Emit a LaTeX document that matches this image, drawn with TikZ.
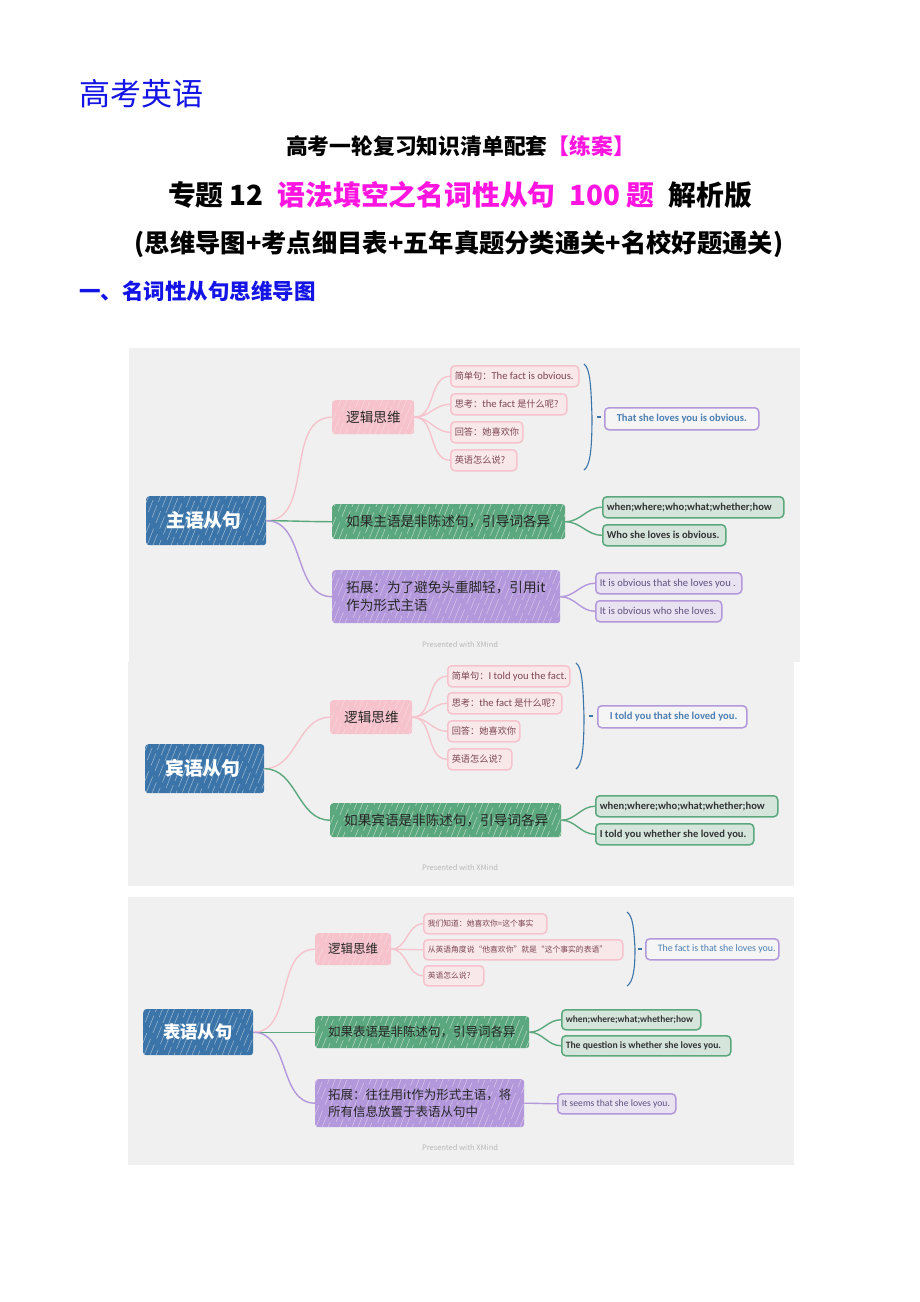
\documentclass[tikz,border=0pt]{standalone}
\usepackage{fontspec}
\setmainfont{Noto Sans CJK SC}
\newfontfamily\engl[Scale=1.15]{Carlito}
\usetikzlibrary{calc}
\definecolor{mapblue}{HTML}{3B74A8}
\definecolor{mappink}{HTML}{F6C3CD}
\definecolor{mapgreen}{HTML}{5CA87E}
\definecolor{mappurple}{HTML}{B498DC}
\definecolor{leafpink}{HTML}{F8E8EA}
\definecolor{leafgreen}{HTML}{D5E5DC}
\definecolor{leafpurple}{HTML}{E9E2F1}
\definecolor{inkpink}{HTML}{7D4650}
\definecolor{inkpurple}{HTML}{5F5280}
\definecolor{inkblue}{HTML}{4C7FB2}
\definecolor{titleblue}{HTML}{1414E6}
\definecolor{titlepink}{HTML}{FF14E0}
\tikzset{
  fs/.style={font=\fontsize{#1}{18}\selectfont},
  wd/.style={text width=#1pt-2*\pgfkeysvalueof{/pgf/inner xsep}},
  tall/.style={minimum height=#1pt},
  box/.style={anchor=north west, rounded corners=3pt, inner ysep=0pt, align=flush left},
  hatched/.style={path picture={
    \foreach \k [evaluate=\k as \ph using {int(mod(\k+60,41))}] in {-60,-54,...,240}
      \draw[white, opacity=#1, line width=.5pt, dash pattern=on 13pt off 4pt on 22pt off 6pt, dash phase=\ph pt]
        ($(path picture bounding box.south west)+(\k,2)$) -- ++(24,-60);}},
  rootbox/.style={box, inner xsep=20pt, fill=mapblue, text=white, hatched=.5, node font=\bfseries},
  topic/.style={box, inner xsep=14pt, text=black!85},
  pinktopic/.style={topic, fill=mappink, hatched=.35},
  greentopic/.style={topic, fill=mapgreen, hatched=.55},
  purpletopic/.style={topic, fill=mappurple, hatched=.45},
  leaf/.style={box, rounded corners=4pt, inner xsep=.5pt, line width=1.5pt, execute at begin node=\hspace*{3.5pt}},
  pinkleaf/.style={leaf, draw=mappink, fill=leafpink, text=inkpink},
  greenleaf/.style={leaf, draw=mapgreen, fill=leafgreen, text=black!80, node font=\bfseries\engl},
  purpleleaf/.style={leaf, draw=mappurple, fill=leafpurple, text=inkpurple, node font=\engl},
  sumleaf/.style={leaf, draw=mappurple, fill=black!4, text=inkblue, execute at begin node=\hspace*{8pt}, node font=\engl},
  link/.style={out=0, in=180, line width=1.4pt},
  pinklink/.style={link, draw=mappink},
  greenlink/.style={link, draw=mapgreen},
  purplelink/.style={link, draw=mappurple},
  bracket/.style={draw=mapblue, line width=1.1pt},
  credit/.style={text=black!28, font=\fontsize{7.5}{9}\selectfont},
  heading/.style={font=\fontsize{#1}{#1}\selectfont\bfseries}
}
\begin{document}
\begin{tikzpicture}[x=1pt, y=-1pt]
  \useasboundingbox (0,0) rectangle (920,1302);

  \node[text=titleblue, anchor=west, inner sep=0pt, font=\fontsize{31}{31}\selectfont] (brand) at (79,94) {高考英语};
  \node[heading=21.8] (title) at (460.5,146) {高考一轮复习知识清单配套\textcolor{titlepink}{【练案】}};
  \node[heading=27.8] (subject) at (460,195) {专题 12\enspace\textcolor{titlepink}{语法填空之名词性从句\enspace 100 题}\enspace 解析版};
  \node[heading=25.3] (plan) at (459,244) {(思维导图+考点细目表+五年真题分类通关+名校好题通关)};
  \node[heading=21.5, text=titleblue, anchor=west, inner sep=0pt] (section) at (79,291) {一、名词性从句思维导图};

  \fill[black!6] (129,348) rectangle (800,662);
  \fill[black!6] (128,662) rectangle (794,886);
  \fill[black!6] (128,897) rectangle (794,1165);

  % subject clause
  \node[rootbox, wd=120, tall=49, fs=18.8] (rootA) at (146,496) {主语从句};
  \node[pinktopic, wd=82, tall=34, fs=13.6] (logicA) at (332,400) {逻辑思维};
  \node[greentopic, wd=233, tall=35, fs=13.6] (wordA) at (332,504) {如果主语是非陈述句，引导词各异};
  \node[purpletopic, wd=228, tall=53, fs=13.6] (itA) at (332,570) {拓展：为了避免头重脚轻，引用it\\作为形式主语};
  \node[pinkleaf, wd=128, tall=21, fs=9.2] (leafAa) at (450,365) {简单句：{\engl The fact is obvious.}};
  \node[pinkleaf, wd=116, tall=21, fs=9.2] (leafAb) at (450,393) {思考：{\engl the fact} 是什么呢?};
  \node[pinkleaf, wd=72, tall=21, fs=9.2] (leafAc) at (450,421) {回答：她喜欢你};
  \node[pinkleaf, wd=66, tall=21, fs=9.2] (leafAd) at (450,449) {英语怎么说?};
  \node[sumleaf, wd=154, tall=22, fs=9.2, node font=\bfseries\engl] (sumA) at (604,407) {That she loves you is obvious.};
  \node[greenleaf, wd=181, tall=21, fs=9.2] (greenAa) at (602,496) {when;where;who;what;whether;how};
  \node[greenleaf, wd=123, tall=21, fs=9.2] (greenAb) at (602,524) {Who she loves is obvious.};
  \node[purpleleaf, wd=146, tall=21, fs=9.2] (purpleAa) at (595,572) {It is obvious that she loves you .};
  \node[purpleleaf, wd=126, tall=21, fs=9.2] (purpleAb) at (595,600) {It is obvious who she loves.};
  \draw[pinklink] (rootA.east) to (logicA.west);
  \draw[greenlink] (rootA.east) to (wordA.west);
  \draw[purplelink] (rootA.east) to (itA.west);
  \foreach \n in {a,b,c,d} {\draw[pinklink] (logicA.east) to (leafA\n.west);}
  \foreach \n in {a,b} {\draw[greenlink] (wordA.east) to (greenA\n.west);}
  \foreach \n in {a,b} {\draw[purplelink] (itA.east) to (purpleA\n.west);}
  \coordinate (capA) at (584,364);
  \coordinate (tipA) at (592,417);
  \coordinate (endA) at (584,470);
  \coordinate (dashA) at (597,417);
  \coordinate (stubA) at (601,417);
  \draw[bracket] (capA) .. controls (590,368) and (591,385) .. (tipA) .. controls (592,450) and (590,466) .. (endA);
  \draw[bracket] (dashA) -- (stubA);
  \node[credit] (creditA) at (460,645) {Presented with XMind};

  % object clause
  \node[rootbox, wd=119, tall=49, fs=18.8] (rootB) at (145,744) {宾语从句};
  \node[pinktopic, wd=82, tall=34, fs=13.6] (logicB) at (330,700) {逻辑思维};
  \node[greentopic, wd=231, tall=34, fs=13.6] (wordB) at (330,803) {如果宾语是非陈述句，引导词各异};
  \node[pinkleaf, wd=122, tall=21, fs=9.2] (leafBa) at (447,665) {简单句：{\engl I told you the fact.}};
  \node[pinkleaf, wd=114, tall=21, fs=9.2] (leafBb) at (447,692) {思考：{\engl the fact} 是什么呢?};
  \node[pinkleaf, wd=72, tall=21, fs=9.2] (leafBc) at (447,720) {回答：她喜欢你};
  \node[pinkleaf, wd=64, tall=21, fs=9.2] (leafBd) at (447,748) {英语怎么说?};
  \node[sumleaf, wd=149, tall=22, fs=9.2, node font=\bfseries\engl] (sumB) at (597,705) {I told you that she loved you.};
  \node[greenleaf, wd=182, tall=21, fs=9.2] (greenBa) at (595,795) {when;where;who;what;whether;how};
  \node[greenleaf, wd=158, tall=21, fs=9.2] (greenBb) at (595,823) {I told you whether she loved you.};
  \draw[pinklink] (rootB.east) to (logicB.west);
  \draw[greenlink] (rootB.east) to (wordB.west);
  \foreach \n in {a,b,c,d} {\draw[pinklink] (logicB.east) to (leafB\n.west);}
  \foreach \n in {a,b} {\draw[greenlink] (wordB.east) to (greenB\n.west);}
  \coordinate (capB) at (576,663);
  \coordinate (tipB) at (584,716);
  \coordinate (endB) at (576,769);
  \coordinate (dashB) at (589,716);
  \coordinate (stubB) at (593,716);
  \draw[bracket] (capB) .. controls (582,667) and (583,684) .. (tipB) .. controls (584,749) and (582,765) .. (endB);
  \draw[bracket] (dashB) -- (stubB);
  \node[credit] (creditB) at (460,868) {Presented with XMind};

  % predicative clause
  \node[rootbox, wd=110, tall=46, fs=17.3] (rootC) at (143,1009) {表语从句};
  \node[pinktopic, wd=76, tall=32, fs=12.5, inner xsep=13pt] (logicC) at (315,933) {逻辑思维};
  \node[greentopic, wd=214, tall=32, fs=12.5, inner xsep=13pt] (wordC) at (315,1016) {如果表语是非陈述句，引导词各异};
  \node[purpletopic, wd=209, tall=48, fs=12.5, inner xsep=13pt] (itC) at (315,1079) {拓展：往往用it作为形式主语，将\\[-1pt]所有信息放置于表语从句中};
  \node[pinkleaf, wd=123, tall=20, fs=7.8] (leafCa) at (423,913) {我们知道：她喜欢你=这个事实};
  \node[pinkleaf, wd=199, tall=20, fs=7.8] (leafCb) at (423,939) {从英语角度说“他喜欢你”就是“这个事实的表语”};
  \node[pinkleaf, wd=60, tall=20, fs=7.8] (leafCc) at (423,965) {英语怎么说?};
  \node[sumleaf, wd=133, tall=21, fs=8.6] (sumC) at (645,938) {The fact is that she loves you.};
  \node[greenleaf, wd=139, tall=20, fs=8.2] (greenCa) at (561,1009) {when;where;what;whether;how};
  \node[greenleaf, wd=169, tall=20, fs=8.4] (greenCb) at (561,1035) {The question is whether she loves you.};
  \node[purpleleaf, wd=118, tall=20, fs=8.4] (purpleCa) at (557,1093) {It seems that she loves you.};
  \draw[pinklink] (rootC.east) to (logicC.west);
  \draw[greenlink] (rootC.east) to (wordC.west);
  \draw[purplelink] (rootC.east) to (itC.west);
  \foreach \n in {a,b,c} {\draw[pinklink] (logicC.east) to (leafC\n.west);}
  \foreach \n in {a,b} {\draw[greenlink] (wordC.east) to (greenC\n.west);}
  \draw[purplelink] (itC.east) to (purpleCa.west);
  \coordinate (capC) at (627,912);
  \coordinate (tipC) at (635,949);
  \coordinate (endC) at (627,986);
  \coordinate (dashC) at (638,949);
  \coordinate (stubC) at (642,949);
  \draw[bracket] (capC) .. controls (633,916) and (634,930) .. (tipC) .. controls (635,970) and (633,982) .. (endC);
  \draw[bracket] (dashC) -- (stubC);
  \node[credit] (creditC) at (460,1148) {Presented with XMind};
\end{tikzpicture}
\end{document}
